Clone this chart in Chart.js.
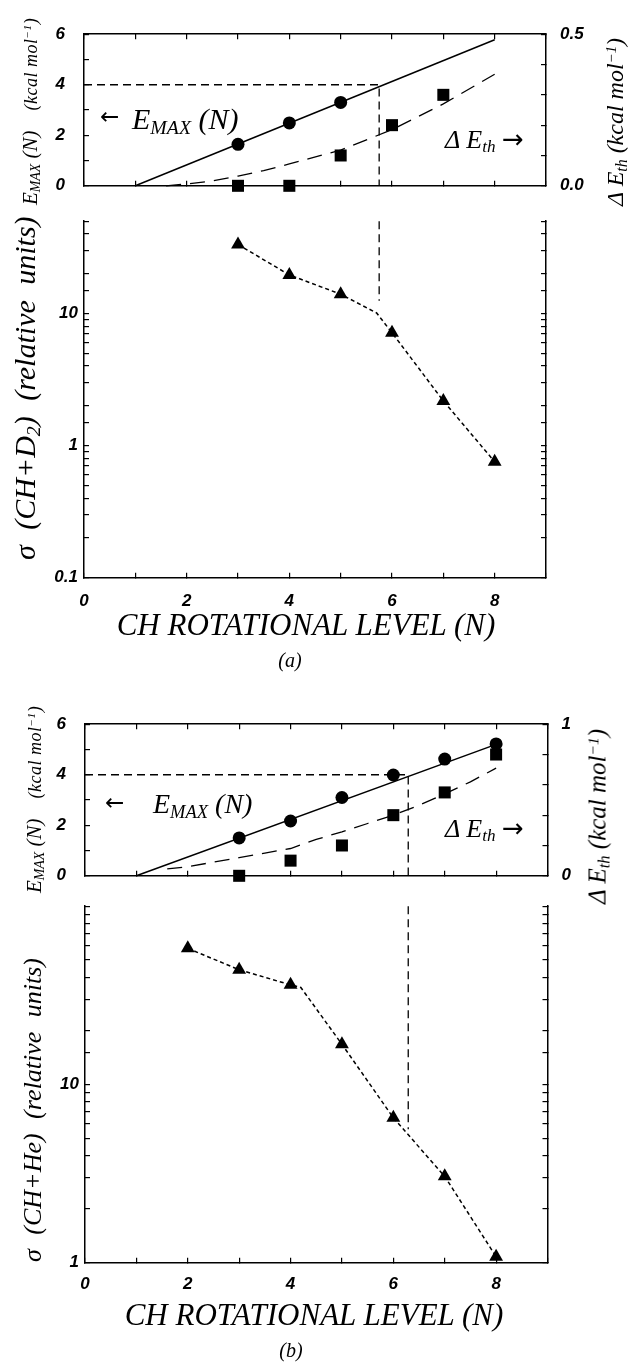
<!DOCTYPE html>
<html>
<head>
<meta charset="utf-8">
<script src="https://cdn.jsdelivr.net/npm/chart.js@4.4.1/dist/chart.umd.min.js"></script>
<style>
  html, body { margin: 0; padding: 0; background: #fff; }
  #fig { position: relative; width: 628px; height: 1363px; overflow: hidden; background: #fff; }
  canvas { position: absolute; left: 0; }
  .lbl { position: absolute; white-space: nowrap; color: #000; line-height: 1;
         font-family: 'Liberation Serif', 'DejaVu Serif', serif; font-style: italic; }
  .sb  { font-size: 0.66em; vertical-align: -0.25em; line-height: 0; }
  sup  { font-size: 0.62em; vertical-align: 0.45em; line-height: 0; }
  .arr { font-family: 'DejaVu Sans', sans-serif; font-style: normal; }
</style>
</head>
<body>
<div id="fig">
  <canvas id="aTop" width="628" height="220" style="top:0px"></canvas>
  <canvas id="aBot" width="628" height="460" style="top:200px"></canvas>
  <canvas id="bTop" width="628" height="220" style="top:690px"></canvas>
  <canvas id="bBot" width="628" height="460" style="top:885px"></canvas>
</div>
<script>
// ---- tick labels ----
const levelLabels = [0, 2, 4, 6, 8];
const emaxLabels  = [0, 2, 4, 6];

// ---- panel (a): CH + D2 ----
const emaxLevelA     = [3, 4, 5];
const emaxA          = [1.64, 2.49, 3.30];
const emaxFitLevelA  = [1, 8];
const emaxFitA       = [0, 5.78];
const dethLevelA     = [3, 4, 5, 6, 7];
const dethA          = [0, 0, 0.10, 0.20, 0.30];
const dethFitLevelA  = [1.6, 2, 2.5, 3, 3.5, 4, 5, 6, 7, 8];
const dethFitA       = [0, 0.006, 0.016, 0.032, 0.05, 0.072, 0.118, 0.185, 0.27, 0.368];
const sigmaLevelA    = [3, 4, 5, 6, 7, 8];
const sigmaA         = [33.3, 19.6, 14.0, 7.15, 2.18, 0.755];
const sigmaPathLevelA = [3, 4, 5, 5.7, 6, 7, 8];
const sigmaPathA      = [33.3, 19.6, 14.0, 10.1, 7.15, 2.18, 0.755];
const crossA         = { level: 5.75, emax: 4, sigmaTop: 50, sigmaEnd: 12.5 };
const dethLabelsA    = [0, 0.5];
const sigmaLabelsA   = [0.1, 1, 10];

// ---- panel (b): CH + He ----
const emaxLevelB     = [3, 4, 5, 6, 7, 8];
const emaxB          = [1.50, 2.17, 3.10, 3.99, 4.62, 5.22];
const emaxFitLevelB  = [1, 8];
const emaxFitB       = [0, 5.2];
const dethLevelB     = [3, 4, 5, 6, 7, 8];
const dethB          = [0, 0.10, 0.20, 0.40, 0.55, 0.80];
const dethFitLevelB  = [1.6, 2, 2.5, 3, 3.5, 4, 4.5, 5, 5.5, 6, 6.5, 7, 7.5, 8];
const dethFitB       = [0.045, 0.06, 0.09, 0.12, 0.15, 0.18, 0.24, 0.29, 0.345, 0.40, 0.465, 0.54, 0.62, 0.71];
const sigmaLevelB    = [2, 3, 4, 5, 6, 7, 8];
const sigmaB         = [58, 44, 36.2, 16.8, 6.5, 3.05, 1.08];
const sigmaPathLevelB = [2, 3, 4, 4.2, 5, 6, 7, 8];
const sigmaPathB      = [58, 44, 36.2, 35, 16.8, 6.5, 3.05, 1.08];
const crossB         = { level: 6.29, emax: 4, sigmaTop: 100, sigmaEnd: 5.6 };
const dethLabelsB    = [0, 1];
const sigmaLabelsB   = [1, 10];

// ============================================================
const tickFont = { family: "'Liberation Sans', Arial, sans-serif", size: 17, style: 'italic', weight: 'bold' };

const near = (v, list) => list.some(t => Math.abs(v - t) < 1e-6 * Math.max(1, Math.abs(t)));
const pts  = (xs, ys) => xs.map((x, i) => ({ x, y: ys[i] }));

// axis box size is forced so the plot area lands where the figure has it
function frameAxis(position, size, extra) {
    const isX = position === 'top' || position === 'bottom';
    return Object.assign({
        position,
        afterFit: s => { if (isX) s.height = size; else s.width = size; },
        border: { display: true, color: '#000', width: 1.5 },
        grid: { drawOnChartArea: false, drawTicks: true, tickLength: -5, color: '#000', lineWidth: 1.2 }
    }, extra);
}

const tickOpts = (padding, callback, more) => Object.assign({
    autoSkip: false, maxRotation: 0, padding, color: '#000', font: tickFont, callback
}, more || {});

const marker = (xs, ys, style, r, yAxisID) => ({
    data: pts(xs, ys), showLine: false, pointStyle: style, pointRadius: r,
    backgroundColor: '#000', borderColor: '#000', borderWidth: 0, clip: false, yAxisID
});

const path = (xs, ys, dash, width, yAxisID) => ({
    data: pts(xs, ys), showLine: true, pointRadius: 0, borderColor: '#000',
    borderWidth: width, borderDash: dash, fill: false, clip: false, yAxisID
});

const baseOptions = (padding, scales) => ({
    responsive: false, animation: false, devicePixelRatio: 1, events: [],
    layout: { padding },
    plugins: { legend: { display: false }, tooltip: { enabled: false } },
    scales
});

function buildTop(id, P) {
    const b = P.box;
    new Chart(document.getElementById(id), {
        type: 'scatter',
        data: { datasets: [
            path([0, P.cross.level, P.cross.level], [P.cross.emax, P.cross.emax, 0], [8, 5], 1.3, 'y'),
            path(P.fitLevel, P.fit, [], 1.5, 'y'),
            path(P.dethFitLevel, P.dethFit, [15, 9], 1.3, 'y2'),
            marker(P.emaxLevel, P.emax, 'circle', 6.5, 'y'),
            marker(P.dethLevel, P.deth, 'rect', 8.5, 'y2')
        ] },
        options: baseOptions(0, {
            x:  frameAxis('top', b.top, { type: 'linear', min: 0, max: 9,
                    ticks: tickOpts(0, () => '', { stepSize: 1 }) }),
            xb: frameAxis('bottom', b.bottom, { type: 'linear', min: 0, max: 9,
                    ticks: tickOpts(0, () => '', { stepSize: 1 }) }),
            y:  frameAxis('left', b.left, { type: 'linear', min: 0, max: 6,
                    ticks: tickOpts(24, v => near(v, emaxLabels) ? String(v) : '', { stepSize: 1 }) }),
            y2: frameAxis('right', b.right, { type: 'linear', min: 0, max: P.dethMax,
                    ticks: tickOpts(19, v => near(v, P.dethLabels) ? P.dethFmt(v) : '', { stepSize: P.dethStep }) })
        })
    });
}

function buildBottom(id, P) {
    const b = P.box;
    const logLabel = v => near(v, P.sigmaLabels) ? (v < 1 ? v.toFixed(1) : String(Math.round(v))) : '';
    new Chart(document.getElementById(id), {
        type: 'scatter',
        data: { datasets: [
            path([P.cross.level, P.cross.level], [P.cross.sigmaTop, P.cross.sigmaEnd], [8, 5], 1.3, 'y'),
            path(P.sigmaPathLevel, P.sigmaPath, [4, 3], 1.5, 'y'),
            marker(P.sigmaLevel, P.sigma, 'triangle', 8, 'y')
        ] },
        options: baseOptions({ top: b.top }, {
            x:  frameAxis('bottom', b.bottom, { type: 'linear', min: 0, max: 9,
                    ticks: tickOpts(P.xPad, v => near(v, levelLabels) ? String(v) : '', { stepSize: 1 }) }),
            y:  frameAxis('left', b.left, { type: 'logarithmic', min: P.sigmaMin, max: P.sigmaMax,
                    ticks: tickOpts(11, logLabel) }),
            y2: frameAxis('right', b.right, { type: 'logarithmic', min: P.sigmaMin, max: P.sigmaMax,
                    ticks: tickOpts(0, () => '') })
        })
    });
}

buildTop('aTop', {
    box: { left: 84, right: 82, top: 22.3, bottom: 14 },
    emaxLevel: emaxLevelA, emax: emaxA, fitLevel: emaxFitLevelA, fit: emaxFitA,
    dethLevel: dethLevelA, deth: dethA, dethFitLevel: dethFitLevelA, dethFit: dethFitA,
    cross: crossA, dethMax: 0.5, dethStep: 0.1, dethLabels: dethLabelsA, dethFmt: v => v.toFixed(1)
});
buildBottom('aBot', {
    box: { left: 84, right: 82, top: 6, bottom: 82.3 }, xPad: 18,
    sigmaLevel: sigmaLevelA, sigma: sigmaA, sigmaPathLevel: sigmaPathLevelA, sigmaPath: sigmaPathA,
    cross: crossA, sigmaMin: 0.1, sigmaMax: 50, sigmaLabels: sigmaLabelsA
});
buildTop('bTop', {
    box: { left: 85, right: 80.5, top: 18, bottom: 18.5 },
    emaxLevel: emaxLevelB, emax: emaxB, fitLevel: emaxFitLevelB, fit: emaxFitB,
    dethLevel: dethLevelB, deth: dethB, dethFitLevel: dethFitLevelB, dethFit: dethFitB,
    cross: crossB, dethMax: 1, dethStep: 0.2, dethLabels: dethLabelsB, dethFmt: v => String(Math.round(v))
});
buildBottom('bBot', {
    box: { left: 85, right: 80.5, top: 6.5, bottom: 82.3 }, xPad: 16,
    sigmaLevel: sigmaLevelB, sigma: sigmaB, sigmaPathLevel: sigmaPathLevelB, sigmaPath: sigmaPathB,
    cross: crossB, sigmaMin: 1, sigmaMax: 100, sigmaLabels: sigmaLabelsB
});

// ---- text (axis titles, annotations, captions) ----
const fig = document.getElementById('fig');
function addText(html, css) {
    const el = document.createElement('div');
    el.className = 'lbl';
    el.innerHTML = html;
    Object.assign(el.style, css);
    fig.appendChild(el);
    return el;
}
const textAt = (html, x, baseline, size, css) => addText(html, Object.assign({
    left: x + 'px', top: (baseline - 0.84 * size) + 'px', fontSize: size + 'px' }, css || {}));
const textMid = (html, cx, baseline, size, css) => textAt(html, cx, baseline, size,
    Object.assign({ transform: 'translateX(-50%)' }, css || {}));
// rotated text reading bottom -> top, starting at yStart, centred on cx
const textUp = (html, cx, yStart, size, css) => addText(html, Object.assign({
    left: cx + 'px', top: yStart + 'px', fontSize: size + 'px',
    transformOrigin: '0 0', transform: 'rotate(-90deg) translateY(-50%)' }, css || {}));

const emaxHtml = 'E<span class="sb">MAX</span> (N)';
const kcalHtml = '(kcal mol<sup>\u22121</sup>)';
const leftSmall = emaxHtml + '<span style="font-size:18px;margin-left:20px;letter-spacing:0.5px">' + kcalHtml + '</span>';

// panel (a)
textUp('\u03c3 (CH+D<span class="sb">2</span>) (relative units)', 25, 560, 30, { wordSpacing: '8px' });
textUp(leftSmall, 30, 205, 21);
textUp('\u0394 E<span class="sb">th</span> ' + kcalHtml, 615, 206, 24);
textAt('<span class="arr">\u2190</span>', 100, 124, 23);
textAt(emaxHtml, 132, 129, 30);
textAt('\u0394 E<span class="sb">th</span> <span class="arr">\u2192</span>', 445, 148, 26);
textMid('CH ROTATIONAL LEVEL (N)', 306, 635, 31);
textMid('(a)', 290, 667, 20);

// panel (b)
textUp('\u03c3 (CH+He) (relative units)', 33, 1262, 26, { wordSpacing: '8px' });
textUp(leftSmall, 34, 893, 21);
textUp('\u0394 E<span class="sb">th</span> ' + kcalHtml, 597, 904, 25);
textAt('<span class="arr">\u2190</span>', 105, 810, 23);
textAt(emaxHtml, 153, 814, 28);
textAt('\u0394 E<span class="sb">th</span> <span class="arr">\u2192</span>', 445, 837, 26);
textMid('CH ROTATIONAL LEVEL (N)', 314, 1325, 31);
textMid('(b)', 291, 1357, 20);
</script>
</body>
</html>
